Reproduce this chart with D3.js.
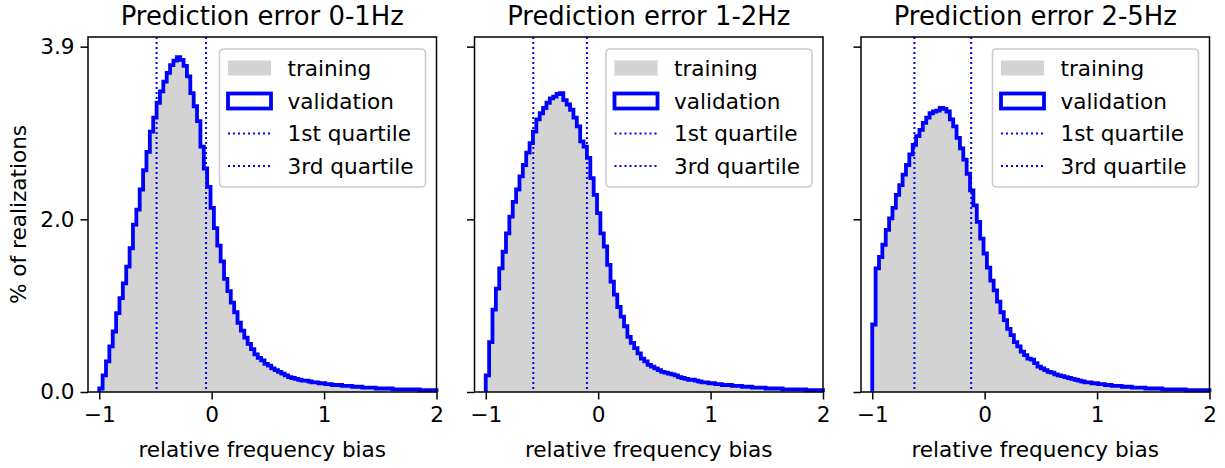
<!DOCTYPE html>
<html>
<head>
<meta charset="utf-8">
<script src="https://cdn.jsdelivr.net/npm/d3@7"></script>
<style>
  body { margin: 0; background: #fff; }
  text { font-family: "DejaVu Sans", sans-serif; fill: #000; }
</style>
</head>
<body>
<script>
// histogram bins: 100 bins of width 0.03 starting at -1
var binStart = -1, binWidth = 0.03;

var titles = ["Prediction error 0-1Hz", "Prediction error 1-2Hz", "Prediction error 2-5Hz"];

// % of realizations per bin
var hist01 = [
  0.04, 0.19, 0.35, 0.52, 0.69, 0.90, 1.07, 1.24, 1.43, 1.64,
  1.91, 2.08, 2.31, 2.53, 2.74, 2.97, 3.13, 3.30, 3.43, 3.54,
  3.64, 3.73, 3.78, 3.82, 3.79, 3.72, 3.60, 3.41, 3.26, 3.09,
  2.80, 2.55, 2.34, 2.10, 1.87, 1.67, 1.49, 1.29, 1.15, 1.02,
  0.91, 0.79, 0.70, 0.62, 0.55, 0.49, 0.43, 0.39, 0.36, 0.32,
  0.30, 0.27, 0.25, 0.23, 0.21, 0.19, 0.17, 0.16, 0.15, 0.14,
  0.13, 0.13, 0.12, 0.11, 0.11, 0.10, 0.10, 0.09, 0.09, 0.08,
  0.08, 0.08, 0.07, 0.07, 0.07, 0.06, 0.06, 0.06, 0.05, 0.05,
  0.05, 0.05, 0.04, 0.04, 0.04, 0.04, 0.04, 0.03, 0.03, 0.03,
  0.03, 0.03, 0.03, 0.03, 0.03, 0.02, 0.02, 0.02, 0.02, 0.02
];
var hist12 = [
  0.19, 0.57, 0.94, 1.18, 1.41, 1.60, 1.81, 2.00, 2.17, 2.31,
  2.46, 2.59, 2.73, 2.84, 2.97, 3.11, 3.18, 3.24, 3.30, 3.35,
  3.37, 3.40, 3.41, 3.33, 3.28, 3.22, 3.13, 3.03, 2.86, 2.80,
  2.67, 2.44, 2.25, 2.04, 1.81, 1.66, 1.45, 1.26, 1.11, 0.97,
  0.86, 0.75, 0.63, 0.56, 0.50, 0.44, 0.38, 0.35, 0.31, 0.29,
  0.27, 0.25, 0.23, 0.22, 0.21, 0.20, 0.19, 0.17, 0.16, 0.15,
  0.14, 0.14, 0.13, 0.12, 0.11, 0.11, 0.10, 0.10, 0.09, 0.09,
  0.08, 0.08, 0.08, 0.07, 0.07, 0.07, 0.06, 0.06, 0.06, 0.05,
  0.05, 0.05, 0.05, 0.04, 0.04, 0.04, 0.04, 0.04, 0.03, 0.03,
  0.03, 0.03, 0.03, 0.03, 0.03, 0.02, 0.02, 0.02, 0.02, 0.02
];
var hist25 = [
  0.77, 1.41, 1.54, 1.68, 1.85, 1.98, 2.10, 2.25, 2.36, 2.48,
  2.59, 2.71, 2.82, 2.92, 2.99, 3.07, 3.13, 3.18, 3.20, 3.21,
  3.24, 3.23, 3.20, 3.11, 3.03, 2.90, 2.78, 2.65, 2.49, 2.30,
  2.13, 1.94, 1.75, 1.58, 1.42, 1.27, 1.16, 1.03, 0.91, 0.82,
  0.72, 0.65, 0.57, 0.52, 0.46, 0.42, 0.38, 0.37, 0.33, 0.29,
  0.27, 0.25, 0.23, 0.22, 0.20, 0.19, 0.18, 0.17, 0.16, 0.15,
  0.14, 0.13, 0.12, 0.11, 0.11, 0.10, 0.10, 0.09, 0.09, 0.08,
  0.08, 0.07, 0.07, 0.07, 0.06, 0.06, 0.06, 0.05, 0.05, 0.05,
  0.05, 0.04, 0.04, 0.04, 0.04, 0.04, 0.03, 0.03, 0.03, 0.03,
  0.03, 0.03, 0.03, 0.02, 0.02, 0.02, 0.02, 0.02, 0.02, 0.02
];
var hists = [hist01, hist12, hist25];

var q1 = [-0.49, -0.577, -0.625];
var q3 = [-0.05, -0.10, -0.12];

var xTicks = [-1, 0, 1, 2];
var yTicks = [0, 1.97, 3.94];
var legendLabels = ["training", "validation", "1st quartile", "3rd quartile"];

var W = 1225, H = 468;
var plotTop = 37, plotBottom = 392, plotW = 348.5, lefts = [88, 474.5, 861];
var plotH = plotBottom - plotTop;

var svg = d3.select("body").append("svg")
    .attr("width", W)
    .attr("height", H);

var x = d3.scaleLinear().domain([-1.1, 2]).range([0, plotW]);
var y = d3.scaleLinear().domain([0, 4.05]).range([plotH, 0]);

var fontSize = 21.6;
var blueW = 3.8, dotW = 2, dots = "2,3";

hists.forEach(function(vals, k){
    var g = svg.append("g").attr("transform", "translate(" + lefts[k] + "," + plotTop + ")");

    var pts = vals.map(function(v, i){ return [binStart + i * binWidth, v]; });
    var fillPts = pts.concat([[2, vals[vals.length - 1]]]);
    var linePts = [[binStart, 0]].concat(pts, [[2, vals[vals.length - 1]], [2, 0]]);

    // training: grey filled
    g.append("path")
     .datum(fillPts)
     .attr("fill", "#d3d3d3")
     .attr("d", d3.area().curve(d3.curveStepAfter)
        .x(function(d){ return x(d[0]); })
        .y0(y(0))
        .y1(function(d){ return y(d[1]); }));

    // validation: blue step
    g.append("path")
     .datum(linePts)
     .attr("fill", "none")
     .attr("stroke", "#0000ff")
     .attr("stroke-width", blueW)
     .attr("stroke-linejoin", "miter")
     .attr("d", d3.line().curve(d3.curveStepAfter)
        .x(function(d){ return x(d[0]); })
        .y(function(d){ return y(d[1]); }));

    // quartiles
    [q1[k], q3[k]].forEach(function(q){
        g.append("line")
         .attr("x1", x(q)).attr("x2", x(q))
         .attr("y1", 0).attr("y2", plotH)
         .attr("stroke", "#0000ff")
         .attr("stroke-width", dotW)
         .attr("stroke-dasharray", dots);
    });

    // axes
    var xa = g.append("g")
     .attr("transform", "translate(0," + plotH + ")")
     .call(d3.axisBottom(x).tickValues(xTicks).tickSize(7.5).tickPadding(6)
        .tickFormat(function(d){ return d < 0 ? "\u2212" + Math.abs(d) : d; }));
    var ya = g.append("g")
     .call(d3.axisLeft(y).tickValues(yTicks).tickSize(7.5).tickPadding(6)
        .tickFormat(k === 0 ? d3.format(".1f") : function(){ return ""; }));
    [xa, ya].forEach(function(a){
        a.select(".domain").remove();
        a.selectAll("line").attr("stroke", "#000").attr("stroke-width", 1.5);
        a.selectAll("text").attr("font-size", fontSize).attr("font-family", "DejaVu Sans");
    });
    xa.selectAll("text").attr("dy", "0.78em");

    // frame
    g.append("rect")
     .attr("width", plotW).attr("height", plotH)
     .attr("fill", "none").attr("stroke", "#000").attr("stroke-width", 1.5);

    // title
    g.append("text")
     .attr("x", plotW / 2).attr("y", -12)
     .attr("text-anchor", "middle")
     .attr("font-size", 25.9)
     .text(titles[k]);

    // x label
    g.append("text")
     .attr("x", plotW / 2).attr("y", 456.5 - plotTop)
     .attr("text-anchor", "middle")
     .attr("font-size", fontSize)
     .text("relative frequency bias");

    // legend
    var lg = g.append("g").attr("transform", "translate(" + (plotW - 11 - 206) + ",12)");
    lg.append("rect")
      .attr("width", 206).attr("height", 138)
      .attr("rx", 4).attr("ry", 4)
      .attr("fill", "#fff").attr("fill-opacity", 0.8)
      .attr("stroke", "#cccccc").attr("stroke-width", 1.6);
    var rows = [19, 52, 84.5, 117];
    lg.append("rect").attr("x", 8.5).attr("y", rows[0] - 7.5)
      .attr("width", 43).attr("height", 15).attr("fill", "#d3d3d3");
    lg.append("rect").attr("x", 8.5).attr("y", rows[1] - 7.5)
      .attr("width", 43).attr("height", 15).attr("fill", "none")
      .attr("stroke", "#0000ff").attr("stroke-width", blueW);
    [rows[2], rows[3]].forEach(function(r){
        lg.append("line").attr("x1", 8.5).attr("x2", 51.5).attr("y1", r).attr("y2", r)
          .attr("stroke", "#0000ff").attr("stroke-width", dotW)
          .attr("stroke-dasharray", dots);
    });
    legendLabels.forEach(function(t, i){
        lg.append("text")
          .attr("x", 68).attr("y", rows[i])
          .attr("dy", "0.36em")
          .attr("font-size", fontSize)
          .text(t);
    });
});

// y label
svg.append("text")
   .attr("transform", "translate(26," + ((plotTop + plotBottom) / 2) + ") rotate(-90)")
   .attr("text-anchor", "middle")
   .attr("font-size", fontSize)
   .text("% of realizations");
</script>
</body>
</html>
